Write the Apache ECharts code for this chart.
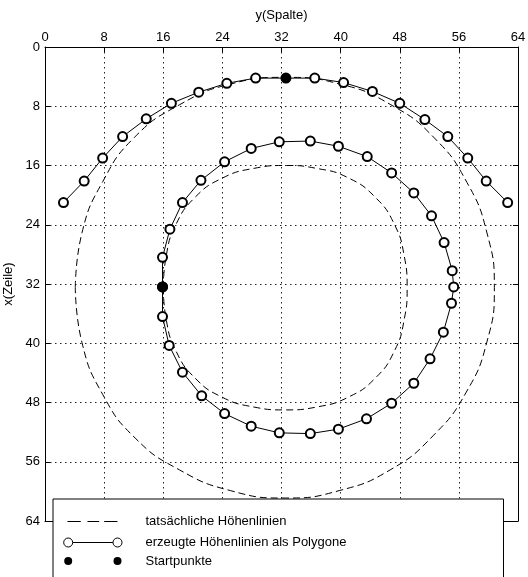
<!DOCTYPE html>
<html><head><meta charset="utf-8">
<script src="https://cdn.jsdelivr.net/npm/echarts@6/dist/echarts.min.js"></script>
<style>html,body{margin:0;padding:0;background:#fff}#c{width:528px;height:577px}</style>
</head><body><div id="c"></div>
<script>
// ---- data ----
const axisMin = 0, axisMax = 64, axisStep = 8;
const xAxisName = 'y(Spalte)';
const yAxisName = 'x(Zeile)';
const legendNames = ['tatsächliche Höhenlinien', 'erzeugte Höhenlinien als Polygone', 'Startpunkte'];

// actual contour lines (dashed), [column, row]
const outerTrue = [[4.1,32.5],[5.0,25.1],[7.8,18.2],[12.1,12.2],[18.2,7.8],[25.1,5.0],[32.5,4.1],[39.9,5.0],[46.8,7.8],[52.7,12.3],[57.1,18.3],[59.8,25.1],[60.8,32.5],[59.8,39.8],[57.0,46.6],[52.5,52.5],[46.7,57.1],[39.8,59.9],[32.5,60.9],[25.1,59.9],[18.2,57.1],[12.2,52.8],[7.8,46.9],[5.0,39.9],[4.1,32.5]];
const innerTrue = [[16.0,32.5],[16.4,28.2],[17.7,24.0],[20.3,20.3],[24.0,17.7],[28.2,16.4],[32.5,16.0],[36.8,16.4],[40.9,17.6],[44.7,20.3],[47.3,24.0],[48.6,28.2],[49.0,32.5],[48.6,36.8],[47.3,41.0],[44.7,44.7],[41.0,47.3],[36.8,48.6],[32.5,49.0],[28.2,48.6],[24.0,47.3],[20.3,44.7],[17.7,41.0],[16.4,36.8],[16.0,32.5]];

// generated contour polygons (markers), [column, row]
const outerPoly = [[2.5,21.0],[5.3,18.1],[7.8,15.0],[10.5,12.1],[13.7,9.7],[17.1,7.6],[20.8,6.1],[24.6,4.9],[28.5,4.2],[32.6,4.2],[36.5,4.2],[40.4,4.8],[44.3,6.0],[48.0,7.6],[51.4,9.8],[54.5,12.1],[57.2,15.0],[59.7,18.1],[62.6,21.0]];
const innerPoly = [[15.9,32.4],[15.9,28.4],[16.9,24.6],[18.6,21.0],[21.1,18.0],[24.3,15.5],[27.9,13.7],[31.7,12.8],[35.9,12.7],[39.7,13.4],[43.6,14.8],[46.9,17.0],[49.9,19.7],[52.3,22.8],[54.0,26.4],[55.1,30.2],[55.3,32.4],[55.0,34.6],[53.9,38.5],[52.1,42.1],[49.9,45.4],[46.9,48.1],[43.5,50.2],[39.7,51.6],[35.9,52.2],[31.7,52.1],[27.9,51.2],[24.3,49.5],[21.2,47.1],[18.6,43.9],[16.8,40.3],[15.9,36.4],[15.9,32.4]];

// start points
const startPoints = [[32.6,4.2],[15.9,32.4]];

// ---- chart ----
const FONT = '"Liberation Sans", Arial, Helvetica, sans-serif';
const FS = 13;
const chart = echarts.init(document.getElementById('c'), null, {renderer: 'canvas'});

const cnv = document.createElement('canvas').getContext('2d');
cnv.font = FS + 'px ' + FONT;
const maxTextW = Math.max.apply(null, legendNames.map(n => cnv.measureText(n).width));
const LEG_W = 448, PAD_L = 7, ICON_W = 78, ICON_H = 14;
const padR = Math.max(4, LEG_W - PAD_L - ICON_W - 5 - maxTextW);

const bbox = 'M0 0 M78 14 ';
const dashIcon = 'path://' + bbox + 'M5 7 L18.3 7 M25 7 L36.7 7 M41.7 7 L55 7';
const polyIcon = 'path://' + bbox + 'M1.2 7 A4.5 4.5 0 1 1 10.2 7 A4.5 4.5 0 1 1 1.2 7 Z M10.2 7 L50.5 7 M50.5 7 A4.5 4.5 0 1 1 59.5 7 A4.5 4.5 0 1 1 50.5 7 Z';
const dotIcon = 'path://' + bbox + 'M1.7 7 A4 4 0 1 1 9.7 7 A4 4 0 1 1 1.7 7 Z M51 7 A4 4 0 1 1 59 7 A4 4 0 1 1 51 7 Z';

function axisBase(extra) {
  return Object.assign({
    type: 'value', min: axisMin, max: axisMax, interval: axisStep,
    axisLine: {show: true, onZero: false, lineStyle: {color: '#000', width: 1}},
    axisTick: {show: true, inside: true, length: 5, lineStyle: {color: '#000', width: 1}},
    axisLabel: {show: false},
    splitLine: {show: false}
  }, extra);
}
const labelStyle = {show: true, color: '#000', fontSize: FS, fontFamily: FONT};
const gridLine = {show: true, lineStyle: {color: '#222', width: 1, type: [1.5, 3.5]}};

const dashedLine = {color: '#000', width: 1, type: [7, 4]};

chart.setOption({
  animation: false,
  backgroundColor: '#fff',
  grid: {left: 45, right: 10, top: 47, bottom: 56, containLabel: false, outerBoundsMode: 'none'},
  xAxis: [
    axisBase({position: 'top', name: xAxisName, nameLocation: 'middle', nameGap: 25,
      nameTextStyle: {color: '#000', fontSize: FS, fontFamily: FONT},
      axisLabel: Object.assign({margin: 3}, labelStyle), splitLine: gridLine}),
    axisBase({position: 'bottom'})
  ],
  yAxis: [
    axisBase({position: 'left', inverse: true, name: yAxisName, nameLocation: 'middle', nameGap: 24, nameRotate: 90,
      nameTextStyle: {color: '#000', fontSize: FS, fontFamily: FONT},
      axisLabel: Object.assign({margin: 5}, labelStyle), splitLine: gridLine}),
    axisBase({position: 'right', inverse: true})
  ],
  legend: {
    orient: 'vertical', left: 53, top: 499, height: 120, selectedMode: false,
    itemWidth: ICON_W, itemHeight: ICON_H, itemGap: 2,
    padding: [13, padR, 30, PAD_L],
    backgroundColor: '#fff', borderColor: '#000', borderWidth: 1,
    textStyle: {color: '#000', fontSize: FS, fontFamily: FONT, lineHeight: 14},
    data: [
      {name: legendNames[0], icon: dashIcon, itemStyle: {color: 'none', borderColor: '#000', borderWidth: 1}},
      {name: legendNames[1], icon: polyIcon, itemStyle: {color: 'none', borderColor: '#000', borderWidth: 1}},
      {name: legendNames[2], icon: dotIcon, itemStyle: {color: '#000', borderColor: '#000', borderWidth: 0}}
    ]
  },
  series: [
    {type: 'line', name: legendNames[0], data: outerTrue, symbol: 'none', smooth: 0.5, lineStyle: dashedLine, itemStyle: {color: '#000'}, z: 2},
    {type: 'line', name: legendNames[0], data: innerTrue, symbol: 'none', smooth: 0.5, lineStyle: dashedLine, itemStyle: {color: '#000'}, z: 2},
    {type: 'line', name: legendNames[1], data: outerPoly, symbol: 'emptyCircle', symbolSize: 9,
      lineStyle: {color: '#000', width: 1}, itemStyle: {color: '#000', borderColor: '#000', borderWidth: 1}, z: 3},
    {type: 'line', name: legendNames[1], data: innerPoly, symbol: 'emptyCircle', symbolSize: 9,
      lineStyle: {color: '#000', width: 1}, itemStyle: {color: '#000', borderColor: '#000', borderWidth: 1}, z: 3},
    {type: 'scatter', name: legendNames[2], data: startPoints, symbol: 'circle', symbolSize: 9,
      itemStyle: {color: '#000', borderColor: '#000', borderWidth: 1, opacity: 1}, z: 5}
  ]
});
</script>
</body></html>
